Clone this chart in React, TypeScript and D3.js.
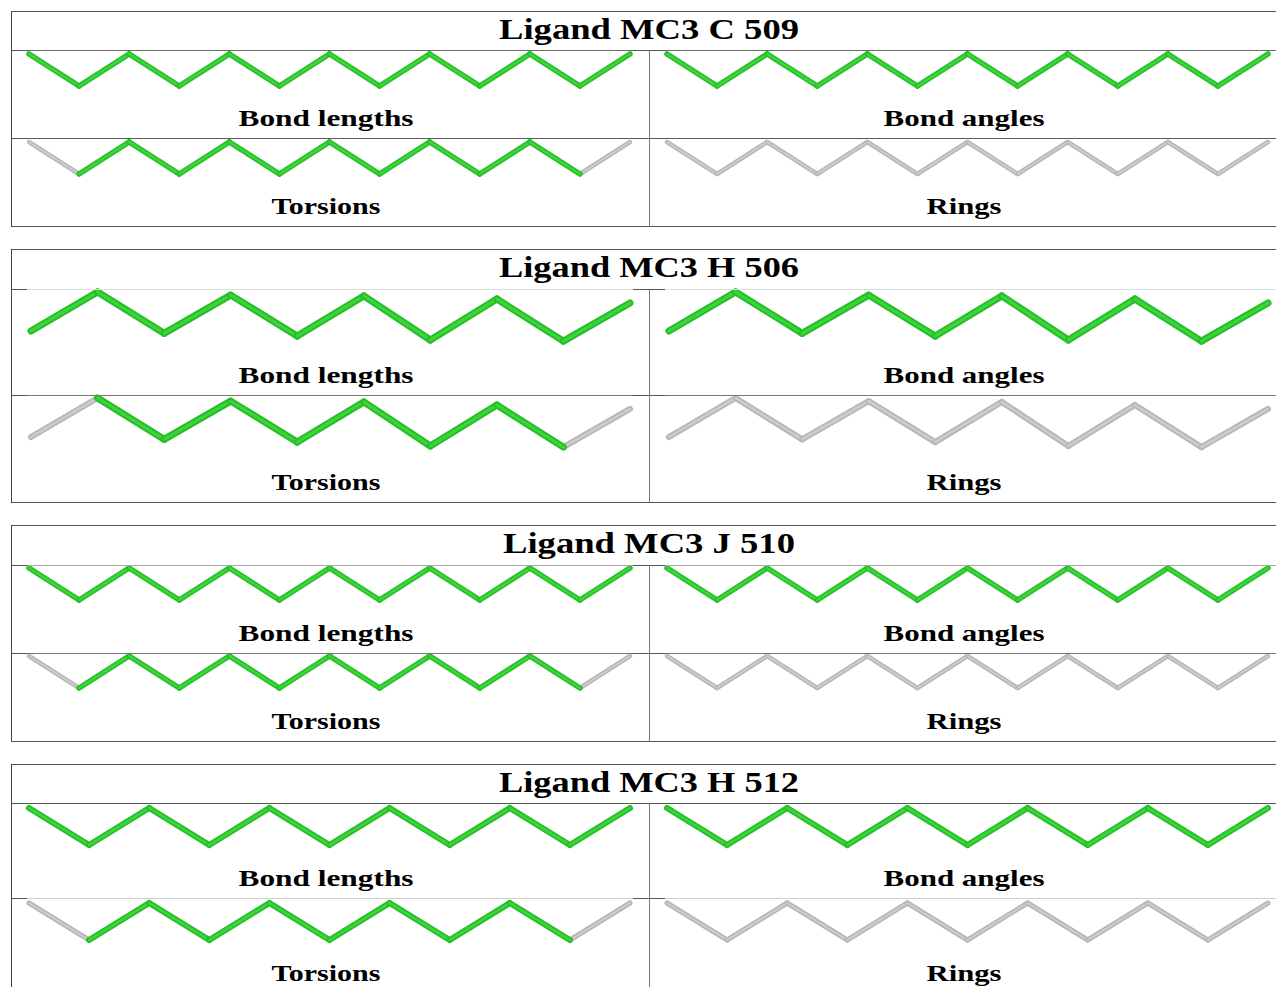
import React from "react";
import * as d3 from "d3";

// ---------- data ----------
const LIGAND_TITLES = ["Ligand MC3 C 509", "Ligand MC3 H 506", "Ligand MC3 J 510", "Ligand MC3 H 512"];
const PANEL_LABELS = ["Bond lengths", "Bond angles", "Torsions", "Rings"];

// atom heights along each chain (0 = upper row of atoms, 1 = lower row)
const CHAIN_C509 = [0, 1, 0, 1, 0, 1, 0, 1, 0, 1, 0, 1, 0];
const CHAIN_H506 = [1, 0, 1.06, 0.08, 1.13, 0.1, 1.23, 0.18, 1.26, 0.28];
const CHAIN_J510 = [0, 1, 0, 1, 0, 1, 0, 1, 0, 1, 0, 1, 0];
const CHAIN_H512 = [0, 1, 0, 1, 0, 1, 0, 1, 0, 1, 0];

// per-bond flags: 1 = assessed (green), 0 = not assessed (grey)
const LENGTHS_C509 = [1, 1, 1, 1, 1, 1, 1, 1, 1, 1, 1, 1];
const ANGLES_C509 = [1, 1, 1, 1, 1, 1, 1, 1, 1, 1, 1, 1];
const TORSIONS_C509 = [0, 1, 1, 1, 1, 1, 1, 1, 1, 1, 1, 0];
const RINGS_C509 = [0, 0, 0, 0, 0, 0, 0, 0, 0, 0, 0, 0];

const LENGTHS_H506 = [1, 1, 1, 1, 1, 1, 1, 1, 1];
const ANGLES_H506 = [1, 1, 1, 1, 1, 1, 1, 1, 1];
const TORSIONS_H506 = [0, 1, 1, 1, 1, 1, 1, 1, 0];
const RINGS_H506 = [0, 0, 0, 0, 0, 0, 0, 0, 0];

const LENGTHS_J510 = [1, 1, 1, 1, 1, 1, 1, 1, 1, 1, 1, 1];
const ANGLES_J510 = [1, 1, 1, 1, 1, 1, 1, 1, 1, 1, 1, 1];
const TORSIONS_J510 = [0, 1, 1, 1, 1, 1, 1, 1, 1, 1, 1, 0];
const RINGS_J510 = [0, 0, 0, 0, 0, 0, 0, 0, 0, 0, 0, 0];

const LENGTHS_H512 = [1, 1, 1, 1, 1, 1, 1, 1, 1, 1];
const ANGLES_H512 = [1, 1, 1, 1, 1, 1, 1, 1, 1, 1];
const TORSIONS_H512 = [0, 1, 1, 1, 1, 1, 1, 1, 1, 0];
const RINGS_H512 = [0, 0, 0, 0, 0, 0, 0, 0, 0, 0];

const CHAINS = [CHAIN_C509, CHAIN_H506, CHAIN_J510, CHAIN_H512];
const FLAGS = [
  [LENGTHS_C509, ANGLES_C509, TORSIONS_C509, RINGS_C509],
  [LENGTHS_H506, ANGLES_H506, TORSIONS_H506, RINGS_H506],
  [LENGTHS_J510, ANGLES_J510, TORSIONS_J510, RINGS_J510],
  [LENGTHS_H512, ANGLES_H512, TORSIONS_H512, RINGS_H512],
];

// ---------- layout / style ----------
const LAYOUT = [
  { top: 11, titleH: 39, rows: [88, 88], y0: 4, y1: 36, x0: 29, lw: 5.5, shade: ["#6a6a6a", "#5a5a5a"], bottom: true },
  { top: 249, titleH: 40, rows: [106, 107], y0: 3, y1: 42, x0: 31, lw: 7, shade: ["#dcdcdc", "#777"], bottom: true },
  { top: 525, titleH: 40, rows: [88, 88], y0: 3, y1: 35, x0: 29, lw: 5.5, shade: ["#a8a8a8", "#777"], bottom: true },
  { top: 764, titleH: 39, rows: [95, 95], y0: 5, y1: 42, x0: 29, lw: 6, shade: ["#555", "#cfcfcf"], bottom: false },
];
const LEFT = 11;
const RIGHT = 1276;
const DIVIDER = 649;
const COL_SHIFT = 638;
const X_END = 630;
const LABEL_X = [326, 964];
const FONT = "'Liberation Serif', 'Times New Roman', serif";
const TITLE_W = [300, 300, 292, 300];
const LABEL_W: Record<string, number> = { "Bond lengths": 175, "Bond angles": 161, Torsions: 109, Rings: 75 };

const GREEN = { outer: "#27bf27", inner: "#45d945" };
const GREY = { outer: "#b7b7b7", inner: "#d2d2d2" };

function Molecule({ chain, flags, x0, x1, yTop, yBottom, lw }: any) {
  const xs = d3.scaleLinear().domain([0, chain.length - 1]).range([x0, x1]);
  const ys = d3.scaleLinear().domain([0, 1]).range([yTop, yBottom]);
  const line = d3.line<number>().x((_, i) => xs(i)).y((d) => ys(d));
  const bonds = flags.map((f: number, i: number) => ({ f, pts: [chain[i], chain[i + 1]], i }));
  const seg = (b: any) =>
    `M${xs(b.i)},${ys(b.pts[0])}L${xs(b.i + 1)},${ys(b.pts[1])}`;
  const order = [...bonds].sort((a, b) => a.f - b.f);
  return (
    <g>
      {order.map((b: any) => {
        const c = b.f ? GREEN : GREY;
        const w = b.f ? lw : lw - 1;
        return (
          <g key={b.i}>
            <path d={seg(b)} stroke={c.outer} strokeWidth={w} strokeLinecap="round" fill="none" />
            <path d={seg(b)} stroke={c.inner} strokeWidth={w * 0.4} strokeLinecap="round" fill="none" opacity={0.8} />
          </g>
        );
      })}
      <path d={line(chain) || ""} fill="none" stroke="none" />
    </g>
  );
}

function HLine({ y, shade }: { y: number; shade?: string }) {
  const dark = "#555";
  if (!shade) return <line x1={LEFT} x2={RIGHT} y1={y} y2={y} stroke={dark} strokeWidth={1} />;
  return (
    <g>
      <line x1={LEFT} x2={27} y1={y} y2={y} stroke={dark} strokeWidth={1} />
      <line x1={27} x2={633} y1={y} y2={y} stroke={shade} strokeWidth={1} />
      <line x1={633} x2={665} y1={y} y2={y} stroke={dark} strokeWidth={1} />
      <line x1={665} x2={RIGHT} y1={y} y2={y} stroke={shade} strokeWidth={1} />
    </g>
  );
}

export default function App() {
  return (
    <svg width={1276} height={987} style={{ position: "absolute", left: 0, top: 0, background: "#fff" }}>
      <rect width={1276} height={987} fill="#fff" />
      {LAYOUT.map((L, bi) => {
        const r1Top = L.top + L.titleH;
        const r2Top = r1Top + L.rows[0];
        const bottom = r2Top + L.rows[1];
        const rowTops = [r1Top, r2Top];
        const rowBottoms = [r2Top, bottom];
        return (
          <g key={bi}>
            {/* title */}
            <text
              x={DIVIDER}
              y={L.top + 28}
              textAnchor="middle"
              fontFamily={FONT}
              fontWeight="bold"
              fontSize={30}
              textLength={TITLE_W[bi]}
              lengthAdjust="spacingAndGlyphs"
              fill="#000"
            >
              {LIGAND_TITLES[bi]}
            </text>
            {/* molecules */}
            {PANEL_LABELS.map((label, pi) => {
              const row = Math.floor(pi / 2);
              const col = pi % 2;
              const rt = rowTops[row];
              return (
                <g key={pi}>
                  <Molecule
                    chain={CHAINS[bi]}
                    flags={FLAGS[bi][pi]}
                    x0={L.x0 + col * COL_SHIFT}
                    x1={X_END + col * COL_SHIFT}
                    yTop={rt + L.y0}
                    yBottom={rt + L.y1}
                    lw={L.lw}
                  />
                  <text
                    x={LABEL_X[col]}
                    y={rowBottoms[row] - 12}
                    textAnchor="middle"
                    fontFamily={FONT}
                    fontWeight="bold"
                    fontSize={23}
                    textLength={LABEL_W[label]}
                    lengthAdjust="spacingAndGlyphs"
                    fill="#000"
                  >
                    {label}
                  </text>
                </g>
              );
            })}
            {/* table lines */}
            <HLine y={L.top + 0.5} />
            <HLine y={r1Top + 0.5} shade={L.shade[0]} />
            <HLine y={r2Top + 0.5} shade={L.shade[1]} />
            {L.bottom && <HLine y={bottom + 0.5} />}
            <line x1={LEFT + 0.5} x2={LEFT + 0.5} y1={L.top} y2={L.bottom ? bottom + 1 : 987} stroke="#444" strokeWidth={1} />
            <line x1={DIVIDER + 0.5} x2={DIVIDER + 0.5} y1={r1Top} y2={L.bottom ? bottom + 1 : 987} stroke="#777" strokeWidth={1} />
          </g>
        );
      })}
    </svg>
  );
}
